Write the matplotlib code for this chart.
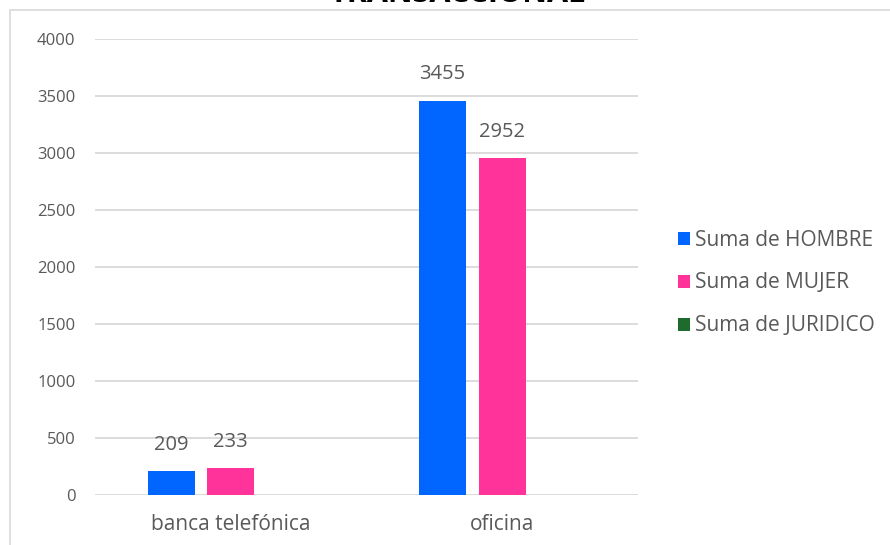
import numpy as np
import matplotlib
matplotlib.use("Agg")
from matplotlib import pyplot as plt
from matplotlib.patches import Rectangle

plt.rcParams['font.family'] = ['Open Sans', 'DejaVu Sans']

# datos
categorias = ['banca telefónica', 'oficina']
series = ['Suma de HOMBRE', 'Suma de MUJER', 'Suma de JURIDICO']
hombre = [209, 3455]
mujer = [233, 2952]
juridico = [0, 0]
colores = ['#0066FF', '#FF3399', '#1E6B2E']
yticks = [0, 500, 1000, 1500, 2000, 2500, 3000, 3500, 4000]

fig = plt.figure(figsize=(8.9, 5.45), dpi=100)
ax = fig.add_axes([95 / 890, 1 - 495 / 545, 543 / 890, 456 / 545])

# borde del area del grafico (cortado a la derecha y abajo)
fig.patches.append(Rectangle((10 / 890, -0.1), 1.2, 1 - 10 / 545 + 0.1,
                             transform=fig.transFigure, fill=False,
                             edgecolor='#d9d9d9', linewidth=1.2))

x = np.arange(len(categorias))
ancho = 0.173
paso = 0.22
valores = [hombre, mujer, juridico]
for i, (nombre, vals, c) in enumerate(zip(series, valores, colores)):
    barras = ax.bar(x + (i - 1) * paso, vals, ancho, color=c, label=nombre, zorder=3)
    if nombre != 'Suma de JURIDICO':
        for b, v in zip(barras, vals):
            ax.annotate(str(v), (b.get_x() + b.get_width() / 2, v),
                        xytext=(0, 12), textcoords='offset points',
                        ha='center', va='bottom', fontsize=14.5, color='#595959')

ax.set_xlim(-0.5, 1.5)
ax.set_ylim(0, 4000)
ax.set_yticks(yticks)
ax.set_xticks(x)
ax.set_xticklabels(categorias, fontsize=15)
ax.yaxis.grid(True, color='#d9d9d9', linewidth=1.3, zorder=0)
ax.tick_params(axis='both', length=0, labelcolor='#595959')
ax.tick_params(axis='y', pad=14, labelsize=12)
ax.tick_params(axis='x', pad=14)
for s in ax.spines.values():
    s.set_visible(False)

ax.legend(loc='center left', bbox_to_anchor=(659 / 890, 1 - 283 / 545),
          bbox_transform=fig.transFigure, frameon=False, fontsize=15,
          handlelength=0.58, handleheight=0.58, handletextpad=0.25,
          labelspacing=1.05, labelcolor='#595959')

fig.text(457 / 890, 1 - 9 / 545, 'TRANSACCIONAL', ha='center', va='bottom',
         fontsize=22, fontweight='bold', color='black')

fig.savefig('out.png', dpi=100)
